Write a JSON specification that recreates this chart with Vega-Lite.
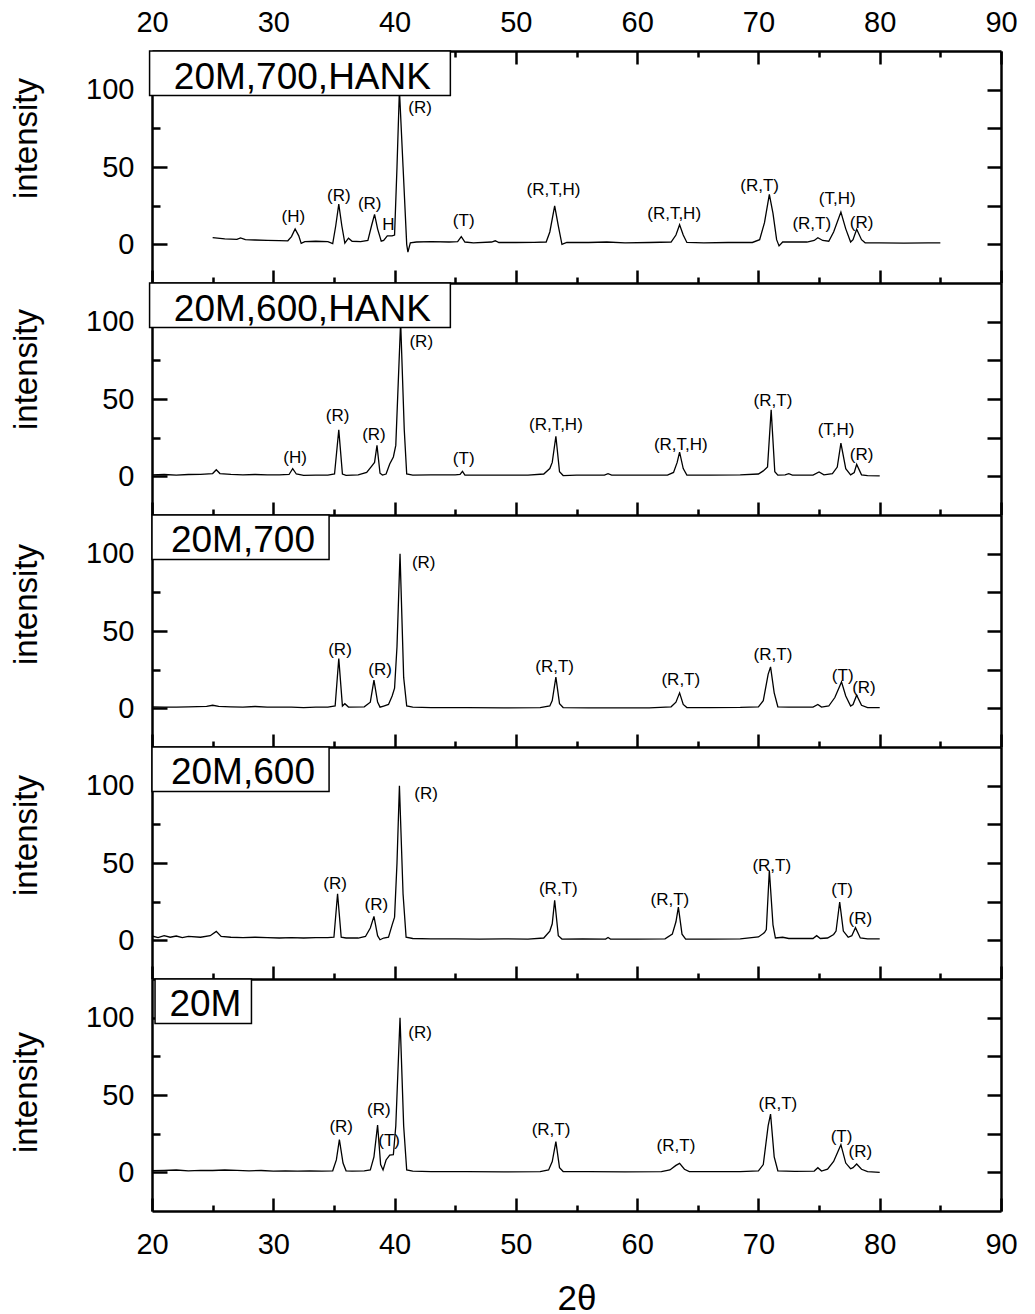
{
  "$schema": "https://vega.github.io/schema/vega-lite/v6.json",
  "padding": {"left": 10, "top": 8, "right": 5, "bottom": 5},
  "background": "white",
  "config": {
    "font": "Liberation Sans",
    "view": {"stroke": null},
    "axis": {"grid": false, "domainColor": "black", "domainWidth": 2.5, "tickColor": "black", "tickWidth": 2.5, "labelColor": "black", "labelFont": "Liberation Sans", "labelFontSize": 29, "labelFlush": false, "labelOverlap": false, "titleFont": "Liberation Sans", "titleColor": "black", "titleFontWeight": "normal"},
    "text": {"color": "black", "font": "Liberation Sans"}
  },
  "datasets": {
    "p1": [{"x":25,"y":4.3},{"x":26,"y":3.5},{"x":27,"y":3.2},{"x":27.3,"y":4.2},{"x":27.7,"y":3},{"x":28.5,"y":2.8},{"x":29.5,"y":2.6},{"x":30.5,"y":2.4},{"x":31.2,"y":2.3},{"x":31.5,"y":5},{"x":31.8,"y":10},{"x":32.1,"y":5.5},{"x":32.3,"y":0.6},{"x":32.6,"y":1.8},{"x":33.5,"y":2},{"x":34.5,"y":1.8},{"x":34.9,"y":0.5},{"x":35.15,"y":12},{"x":35.4,"y":26},{"x":35.65,"y":12},{"x":35.9,"y":0.8},{"x":36.2,"y":4},{"x":36.5,"y":2},{"x":37.2,"y":1.8},{"x":37.8,"y":2.5},{"x":38.1,"y":12},{"x":38.35,"y":19.4},{"x":38.6,"y":10},{"x":38.9,"y":2},{"x":39.1,"y":2.5},{"x":39.4,"y":5.5},{"x":39.8,"y":5.5},{"x":40.0,"y":6},{"x":40.2,"y":50},{"x":40.4,"y":100},{"x":40.7,"y":50},{"x":41.0,"y":0},{"x":41.1,"y":-5},{"x":41.3,"y":1},{"x":41.8,"y":1.5},{"x":43,"y":1.8},{"x":44.5,"y":1.5},{"x":45.2,"y":1.8},{"x":45.5,"y":5},{"x":45.8,"y":1.5},{"x":46.5,"y":1},{"x":48,"y":1.5},{"x":48.3,"y":2.3},{"x":48.6,"y":1.2},{"x":50,"y":1.2},{"x":51.5,"y":1.3},{"x":52.5,"y":1.5},{"x":52.8,"y":8},{"x":53.2,"y":24.8},{"x":53.5,"y":12},{"x":53.8,"y":0},{"x":54.2,"y":1.3},{"x":56,"y":1.2},{"x":57.5,"y":1.5},{"x":59,"y":1.0},{"x":61,"y":1.2},{"x":62.8,"y":1.5},{"x":63.2,"y":6},{"x":63.5,"y":12.7},{"x":63.8,"y":6},{"x":64.1,"y":1.2},{"x":65.5,"y":1},{"x":67.5,"y":1.2},{"x":69.5,"y":1.2},{"x":70.1,"y":3},{"x":70.5,"y":14},{"x":70.9,"y":32.3},{"x":71.2,"y":20},{"x":71.5,"y":3},{"x":71.7,"y":-1},{"x":72,"y":1.5},{"x":73,"y":1.5},{"x":74,"y":1.5},{"x":74.6,"y":2.5},{"x":74.9,"y":4.3},{"x":75.3,"y":2.5},{"x":75.8,"y":2},{"x":76.2,"y":8},{"x":76.8,"y":20.9},{"x":77.2,"y":10},{"x":77.6,"y":1.5},{"x":77.8,"y":3},{"x":78.1,"y":9.7},{"x":78.5,"y":3},{"x":78.8,"y":1},{"x":80,"y":1},{"x":82,"y":0.8},{"x":84,"y":1},{"x":85,"y":1}],
    "p2": [{"x":20,"y":1},{"x":21,"y":1.2},{"x":22,"y":0.8},{"x":23,"y":1.2},{"x":24,"y":1.3},{"x":25,"y":1.8},{"x":25.3,"y":4.3},{"x":25.6,"y":1.8},{"x":26.5,"y":1.3},{"x":27.5,"y":1},{"x":28.5,"y":1.2},{"x":29.5,"y":1},{"x":30.5,"y":1},{"x":31.3,"y":1.2},{"x":31.6,"y":4.9},{"x":31.9,"y":1.5},{"x":32.5,"y":0.6},{"x":33.5,"y":0.8},{"x":34.5,"y":0.8},{"x":35.05,"y":1.5},{"x":35.4,"y":30.1},{"x":35.7,"y":1.5},{"x":36,"y":0.6},{"x":37,"y":1},{"x":37.7,"y":2.5},{"x":38.1,"y":6.5},{"x":38.35,"y":9},{"x":38.55,"y":20},{"x":38.8,"y":2},{"x":39.0,"y":0.8},{"x":39.3,"y":1.5},{"x":39.6,"y":8},{"x":39.9,"y":12.5},{"x":40.1,"y":20},{"x":40.5,"y":100},{"x":40.8,"y":30},{"x":41.0,"y":1.5},{"x":41.5,"y":0.8},{"x":43,"y":1},{"x":45,"y":1},{"x":45.4,"y":1.2},{"x":45.6,"y":3.2},{"x":45.8,"y":0.8},{"x":47,"y":0.8},{"x":49,"y":0.8},{"x":51,"y":0.8},{"x":52.3,"y":1.5},{"x":52.8,"y":5},{"x":53.0,"y":9},{"x":53.3,"y":25.9},{"x":53.6,"y":3},{"x":53.9,"y":0.5},{"x":55,"y":0.8},{"x":57.3,"y":0.8},{"x":57.6,"y":1.7},{"x":57.9,"y":0.8},{"x":60,"y":0.8},{"x":62.5,"y":0.8},{"x":63.0,"y":2.5},{"x":63.3,"y":9},{"x":63.5,"y":15.7},{"x":63.8,"y":5},{"x":64.1,"y":0.8},{"x":66,"y":0.8},{"x":68.5,"y":1},{"x":70,"y":1.5},{"x":70.4,"y":3.5},{"x":70.75,"y":6},{"x":71.05,"y":43},{"x":71.35,"y":3},{"x":71.6,"y":0.8},{"x":72.2,"y":1},{"x":72.5,"y":1.7},{"x":72.8,"y":0.8},{"x":74.5,"y":0.8},{"x":75,"y":2.8},{"x":75.4,"y":1},{"x":76.1,"y":1.8},{"x":76.5,"y":6},{"x":76.8,"y":21.5},{"x":77.2,"y":5},{"x":77.6,"y":1},{"x":77.9,"y":2.5},{"x":78.1,"y":7.7},{"x":78.5,"y":1},{"x":79,"y":0.5},{"x":80,"y":0.3}],
    "p3": [{"x":20,"y":1},{"x":21,"y":0.8},{"x":22,"y":0.8},{"x":23,"y":1},{"x":24.5,"y":1.3},{"x":25,"y":2},{"x":25.5,"y":1.3},{"x":26.5,"y":1},{"x":27.5,"y":0.8},{"x":28.5,"y":1.2},{"x":29.5,"y":0.8},{"x":30.5,"y":0.8},{"x":31.5,"y":0.8},{"x":32.5,"y":0.5},{"x":33.5,"y":0.8},{"x":34.5,"y":0.8},{"x":35.1,"y":1.5},{"x":35.4,"y":32.2},{"x":35.7,"y":1.5},{"x":35.9,"y":3},{"x":36.2,"y":0.8},{"x":37.5,"y":1},{"x":38.0,"y":4},{"x":38.3,"y":18.2},{"x":38.6,"y":4},{"x":38.8,"y":0.8},{"x":39.1,"y":1.5},{"x":39.5,"y":2.5},{"x":39.8,"y":8},{"x":40.0,"y":13},{"x":40.2,"y":40},{"x":40.45,"y":100},{"x":40.75,"y":20},{"x":41.0,"y":1.5},{"x":41.5,"y":0.8},{"x":43,"y":0.5},{"x":46,"y":0.5},{"x":49,"y":0.3},{"x":52,"y":0.5},{"x":52.8,"y":1.5},{"x":53.0,"y":5},{"x":53.3,"y":20.2},{"x":53.6,"y":3},{"x":53.9,"y":0.5},{"x":56,"y":0.3},{"x":58,"y":0.3},{"x":61,"y":0.3},{"x":62.8,"y":1},{"x":63.2,"y":4},{"x":63.5,"y":10},{"x":63.8,"y":2.5},{"x":64.1,"y":0.5},{"x":66,"y":0.5},{"x":68.5,"y":0.6},{"x":70,"y":1},{"x":70.4,"y":5},{"x":70.8,"y":22},{"x":71.0,"y":26.8},{"x":71.3,"y":10},{"x":71.6,"y":1},{"x":72.5,"y":0.8},{"x":74.5,"y":0.8},{"x":74.9,"y":2.5},{"x":75.2,"y":0.8},{"x":75.8,"y":1.5},{"x":76.3,"y":7},{"x":76.85,"y":17.1},{"x":77.2,"y":8},{"x":77.6,"y":1.5},{"x":77.8,"y":2.5},{"x":78.1,"y":8.5},{"x":78.5,"y":2},{"x":79,"y":0.5},{"x":80,"y":0.5}],
    "p4": [{"x":20,"y":2.8},{"x":20.5,"y":1.8},{"x":21,"y":3},{"x":21.5,"y":2},{"x":22,"y":2.8},{"x":22.5,"y":1.8},{"x":23,"y":2.5},{"x":24,"y":2},{"x":24.8,"y":3},{"x":25.3,"y":5.8},{"x":25.7,"y":2.5},{"x":26.5,"y":2},{"x":27.5,"y":1.8},{"x":28.5,"y":2},{"x":29.5,"y":1.8},{"x":30.5,"y":1.5},{"x":31.5,"y":1.8},{"x":32.5,"y":1.5},{"x":33.5,"y":1.7},{"x":34.5,"y":1.8},{"x":35.0,"y":2},{"x":35.3,"y":30.1},{"x":35.6,"y":2},{"x":36,"y":1.5},{"x":37,"y":1.5},{"x":37.6,"y":2.5},{"x":38.0,"y":8},{"x":38.3,"y":15.5},{"x":38.6,"y":3},{"x":38.8,"y":0.4},{"x":39.1,"y":1.5},{"x":39.5,"y":2},{"x":39.8,"y":10},{"x":40.0,"y":15},{"x":40.2,"y":50},{"x":40.4,"y":100},{"x":40.7,"y":30},{"x":40.95,"y":2},{"x":41.5,"y":1.2},{"x":43,"y":1},{"x":45,"y":1},{"x":47,"y":0.8},{"x":49,"y":1},{"x":51,"y":0.8},{"x":52.3,"y":1.5},{"x":52.8,"y":6},{"x":53.0,"y":10.7},{"x":53.2,"y":25.9},{"x":53.5,"y":3},{"x":53.8,"y":0.8},{"x":55.5,"y":1},{"x":57.4,"y":0.8},{"x":57.6,"y":1.8},{"x":57.8,"y":0.8},{"x":60,"y":0.8},{"x":62.3,"y":1},{"x":62.9,"y":4},{"x":63.2,"y":12},{"x":63.4,"y":21.5},{"x":63.7,"y":4},{"x":64.0,"y":0.8},{"x":66,"y":0.8},{"x":68.5,"y":1},{"x":70,"y":2.2},{"x":70.5,"y":5},{"x":70.65,"y":6.9},{"x":70.9,"y":45.2},{"x":71.2,"y":10},{"x":71.4,"y":1.5},{"x":72.0,"y":2},{"x":72.5,"y":1.2},{"x":74.5,"y":1.2},{"x":74.8,"y":3},{"x":75.1,"y":1.2},{"x":75.7,"y":1.5},{"x":76.2,"y":3.8},{"x":76.4,"y":6},{"x":76.7,"y":24.8},{"x":77.0,"y":6},{"x":77.4,"y":2},{"x":77.7,"y":3},{"x":78.0,"y":8.2},{"x":78.4,"y":1.5},{"x":79,"y":1},{"x":80,"y":1}],
    "p5": [{"x":20,"y":1.1},{"x":21,"y":1.3},{"x":22,"y":1.5},{"x":23,"y":1},{"x":24,"y":1.3},{"x":25,"y":1.2},{"x":26,"y":1.5},{"x":27,"y":1.3},{"x":28,"y":1.0},{"x":29,"y":1.2},{"x":30,"y":0.8},{"x":31,"y":1},{"x":32,"y":0.8},{"x":33,"y":1.0},{"x":34,"y":0.8},{"x":34.9,"y":1},{"x":35.2,"y":8},{"x":35.45,"y":21.1},{"x":35.75,"y":6},{"x":36.0,"y":1},{"x":36.5,"y":0.8},{"x":37.5,"y":1},{"x":38.0,"y":1.5},{"x":38.3,"y":10},{"x":38.6,"y":30.6},{"x":38.85,"y":5},{"x":39.05,"y":1.5},{"x":39.3,"y":8},{"x":39.6,"y":11.2},{"x":39.9,"y":11.5},{"x":40.1,"y":30},{"x":40.45,"y":100},{"x":40.75,"y":30},{"x":41.0,"y":1.5},{"x":41.5,"y":0.8},{"x":43,"y":0.5},{"x":46,"y":0.5},{"x":49,"y":0.3},{"x":52,"y":0.5},{"x":52.7,"y":1.5},{"x":53.0,"y":7},{"x":53.3,"y":19.8},{"x":53.6,"y":3},{"x":53.9,"y":0.5},{"x":56,"y":0.5},{"x":59,"y":0.3},{"x":62,"y":0.5},{"x":62.7,"y":1.5},{"x":63.2,"y":4.5},{"x":63.5,"y":5.8},{"x":63.9,"y":2},{"x":64.3,"y":0.5},{"x":66,"y":0.5},{"x":68.5,"y":0.5},{"x":70,"y":1},{"x":70.4,"y":5},{"x":70.8,"y":30},{"x":71.0,"y":37.7},{"x":71.3,"y":10},{"x":71.6,"y":1},{"x":73,"y":0.6},{"x":74.6,"y":0.8},{"x":74.9,"y":3},{"x":75.2,"y":0.8},{"x":75.7,"y":2},{"x":76.2,"y":7},{"x":76.8,"y":17.9},{"x":77.2,"y":6},{"x":77.6,"y":2.3},{"x":77.8,"y":3},{"x":78.1,"y":5.4},{"x":78.5,"y":2},{"x":79,"y":0.5},{"x":80,"y":0}],
    "b1": [{"x0":19.8,"x1":44.6,"y0":96.2,"y1":125,"xc":32.4,"yc":100.3,"name":"20M,700,HANK"}],
    "b2": [{"x0":19.8,"x1":44.6,"y0":96.2,"y1":125,"xc":32.4,"yc":100.3,"name":"20M,600,HANK"}],
    "b3": [{"x0":20,"x1":34.6,"y0":96.2,"y1":125,"xc":27.5,"yc":100.8,"name":"20M,700"}],
    "b4": [{"x0":20,"x1":34.6,"y0":96.2,"y1":125,"xc":27.5,"yc":100.8,"name":"20M,600"}],
    "b5": [{"x0":20.25,"x1":28.2,"y0":96.2,"y1":125,"xc":24.4,"yc":101,"name":"20M"}],
    "l1": [{"x":31.65,"y":17.6,"t":"(H)"},{"x":35.4,"y":31.2,"t":"(R)"},{"x":37.95,"y":25.9,"t":"(R)"},{"x":39.5,"y":12.7,"t":"H"},{"x":42.1,"y":88.3,"t":"(R)"},{"x":45.7,"y":15.1,"t":"(T)"},{"x":53.1,"y":34.9,"t":"(R,T,H)"},{"x":63.05,"y":19.4,"t":"(R,T,H)"},{"x":70.1,"y":37.5,"t":"(R,T)"},{"x":74.4,"y":13.3,"t":"(R,T)"},{"x":76.5,"y":29.1,"t":"(T,H)"},{"x":78.5,"y":14.0,"t":"(R)"}],
    "l2": [{"x":31.8,"y":11.8,"t":"(H)"},{"x":35.3,"y":38.8,"t":"(R)"},{"x":38.3,"y":26.9,"t":"(R)"},{"x":42.2,"y":86.8,"t":"(R)"},{"x":45.7,"y":11.4,"t":"(T)"},{"x":53.3,"y":33.4,"t":"(R,T,H)"},{"x":63.6,"y":20,"t":"(R,T,H)"},{"x":71.2,"y":48.5,"t":"(R,T)"},{"x":76.4,"y":29.7,"t":"(T,H)"},{"x":78.5,"y":13.6,"t":"(R)"}],
    "l3": [{"x":35.5,"y":38,"t":"(R)"},{"x":38.8,"y":25,"t":"(R)"},{"x":42.4,"y":94,"t":"(R)"},{"x":53.2,"y":26.8,"t":"(R,T)"},{"x":63.6,"y":18,"t":"(R,T)"},{"x":71.2,"y":34.8,"t":"(R,T)"},{"x":76.95,"y":20.8,"t":"(T)"},{"x":78.7,"y":13.3,"t":"(R)"}],
    "l4": [{"x":35.1,"y":36.6,"t":"(R)"},{"x":38.5,"y":22.6,"t":"(R)"},{"x":42.6,"y":94.8,"t":"(R)"},{"x":53.5,"y":33.4,"t":"(R,T)"},{"x":62.7,"y":26.2,"t":"(R,T)"},{"x":71.1,"y":47.8,"t":"(R,T)"},{"x":76.9,"y":32.3,"t":"(T)"},{"x":78.4,"y":14,"t":"(R)"}],
    "l5": [{"x":35.6,"y":29.1,"t":"(R)"},{"x":38.7,"y":40.3,"t":"(R)"},{"x":39.55,"y":20.5,"t":"(T)"},{"x":42.1,"y":90,"t":"(R)"},{"x":52.9,"y":27.2,"t":"(R,T)"},{"x":63.2,"y":17.3,"t":"(R,T)"},{"x":71.6,"y":44,"t":"(R,T)"},{"x":76.85,"y":22.6,"t":"(T)"},{"x":78.4,"y":12.9,"t":"(R)"}]
  },
  "spacing": 0,
  "bounds": "flush",
  "vconcat": [
    {
      "width": 849, "height": 232,
      "resolve": {"axis": {"x": "independent", "y": "independent"}},
      "layer": [
        {"data": {"name": "p1"}, "mark": {"type": "line", "color": "black", "strokeWidth": 1.3},
         "encoding": {
           "x": {"field": "x", "type": "quantitative", "scale": {"domain": [20, 90], "nice": false}, "axis": {"orient": "bottom", "values": [20,30,40,50,60,70,80,90], "tickSize": -13, "labels": false, "title": null}},
           "y": {"field": "y", "type": "quantitative", "scale": {"domain": [-25, 125], "nice": false}, "axis": {"orient": "left", "values": [0,50,100], "tickSize": -15, "labelPadding": 33, "title": "intensity", "titleFontSize": 33, "titlePadding": 42, "titleY": 87}}}},
        {"data": {"name": "b1"}, "mark": {"type": "rect", "fill": "white", "stroke": "black", "strokeWidth": 1.5},
         "encoding": {
           "x": {"field": "x0", "type": "quantitative", "scale": {"domain": [20, 90], "nice": false}, "axis": {"orient": "top", "values": [20,30,40,50,60,70,80,90], "tickSize": -13, "labelPadding": 27, "title": null}},
           "x2": {"field": "x1"},
           "y": {"field": "y0", "type": "quantitative", "scale": {"domain": [-25, 125], "nice": false}, "axis": {"orient": "right", "values": [0,25,50,75,100], "tickSize": -14, "labels": false, "title": null}},
           "y2": {"field": "y1"}}},
        {"data": {"name": "b1"}, "mark": {"type": "text", "fontSize": 37, "align": "center", "baseline": "alphabetic"},
         "encoding": {
           "x": {"field": "xc", "type": "quantitative", "scale": {"domain": [20, 90], "nice": false}, "axis": {"orient": "bottom", "values": [25,35,45,55,65,75,85], "tickSize": -6, "labels": false, "domain": false, "title": null}},
           "y": {"field": "yc", "type": "quantitative", "scale": {"domain": [-25, 125], "nice": false}, "axis": {"orient": "left", "values": [25,75], "tickSize": -8, "labels": false, "domain": false, "title": null}},
           "text": {"field": "name"}}},
        {"data": {"name": "l1"}, "mark": {"type": "text", "fontSize": 17, "align": "center", "baseline": "middle"},
         "encoding": {
           "x": {"field": "x", "type": "quantitative", "scale": {"domain": [20, 90], "nice": false}, "axis": {"orient": "top", "values": [25,35,45,55,65,75,85], "tickSize": -6, "labels": false, "domain": false, "title": null}},
           "y": {"field": "y", "type": "quantitative", "scale": {"domain": [-25, 125], "nice": false}, "axis": null},
           "text": {"field": "t"}}}
      ]
    },
    {
      "width": 849, "height": 232,
      "resolve": {"axis": {"x": "independent", "y": "independent"}},
      "layer": [
        {"data": {"name": "p2"}, "mark": {"type": "line", "color": "black", "strokeWidth": 1.3},
         "encoding": {
           "x": {"field": "x", "type": "quantitative", "scale": {"domain": [20, 90], "nice": false}, "axis": {"orient": "bottom", "values": [20,30,40,50,60,70,80,90], "tickSize": -13, "labels": false, "title": null}},
           "y": {"field": "y", "type": "quantitative", "scale": {"domain": [-25, 125], "nice": false}, "axis": {"orient": "left", "values": [0,50,100], "tickSize": -15, "labelPadding": 33, "title": "intensity", "titleFontSize": 33, "titlePadding": 42, "titleY": 86}}}},
        {"data": {"name": "b2"}, "mark": {"type": "rect", "fill": "white", "stroke": "black", "strokeWidth": 1.5},
         "encoding": {
           "x": {"field": "x0", "type": "quantitative", "scale": {"domain": [20, 90], "nice": false}, "axis": null},
           "x2": {"field": "x1"},
           "y": {"field": "y0", "type": "quantitative", "scale": {"domain": [-25, 125], "nice": false}, "axis": {"orient": "right", "values": [0,25,50,75,100], "tickSize": -14, "labels": false, "title": null}},
           "y2": {"field": "y1"}}},
        {"data": {"name": "b2"}, "mark": {"type": "text", "fontSize": 37, "align": "center", "baseline": "alphabetic"},
         "encoding": {
           "x": {"field": "xc", "type": "quantitative", "scale": {"domain": [20, 90], "nice": false}, "axis": {"orient": "bottom", "values": [25,35,45,55,65,75,85], "tickSize": -6, "labels": false, "domain": false, "title": null}},
           "y": {"field": "yc", "type": "quantitative", "scale": {"domain": [-25, 125], "nice": false}, "axis": {"orient": "left", "values": [25,75], "tickSize": -8, "labels": false, "domain": false, "title": null}},
           "text": {"field": "name"}}},
        {"data": {"name": "l2"}, "mark": {"type": "text", "fontSize": 17, "align": "center", "baseline": "middle"},
         "encoding": {
           "x": {"field": "x", "type": "quantitative", "scale": {"domain": [20, 90], "nice": false}, "axis": null},
           "y": {"field": "y", "type": "quantitative", "scale": {"domain": [-25, 125], "nice": false}, "axis": null},
           "text": {"field": "t"}}}
      ]
    },
    {
      "width": 849, "height": 232,
      "resolve": {"axis": {"x": "independent", "y": "independent"}},
      "layer": [
        {"data": {"name": "p3"}, "mark": {"type": "line", "color": "black", "strokeWidth": 1.3},
         "encoding": {
           "x": {"field": "x", "type": "quantitative", "scale": {"domain": [20, 90], "nice": false}, "axis": {"orient": "bottom", "values": [20,30,40,50,60,70,80,90], "tickSize": -13, "labels": false, "title": null}},
           "y": {"field": "y", "type": "quantitative", "scale": {"domain": [-25, 125], "nice": false}, "axis": {"orient": "left", "values": [0,50,100], "tickSize": -15, "labelPadding": 33, "title": "intensity", "titleFontSize": 33, "titlePadding": 42, "titleY": 89}}}},
        {"data": {"name": "b3"}, "mark": {"type": "rect", "fill": "white", "stroke": "black", "strokeWidth": 1.5},
         "encoding": {
           "x": {"field": "x0", "type": "quantitative", "scale": {"domain": [20, 90], "nice": false}, "axis": null},
           "x2": {"field": "x1"},
           "y": {"field": "y0", "type": "quantitative", "scale": {"domain": [-25, 125], "nice": false}, "axis": {"orient": "right", "values": [0,25,50,75,100], "tickSize": -14, "labels": false, "title": null}},
           "y2": {"field": "y1"}}},
        {"data": {"name": "b3"}, "mark": {"type": "text", "fontSize": 37, "align": "center", "baseline": "alphabetic"},
         "encoding": {
           "x": {"field": "xc", "type": "quantitative", "scale": {"domain": [20, 90], "nice": false}, "axis": {"orient": "bottom", "values": [25,35,45,55,65,75,85], "tickSize": -6, "labels": false, "domain": false, "title": null}},
           "y": {"field": "yc", "type": "quantitative", "scale": {"domain": [-25, 125], "nice": false}, "axis": {"orient": "left", "values": [25,75], "tickSize": -8, "labels": false, "domain": false, "title": null}},
           "text": {"field": "name"}}},
        {"data": {"name": "l3"}, "mark": {"type": "text", "fontSize": 17, "align": "center", "baseline": "middle"},
         "encoding": {
           "x": {"field": "x", "type": "quantitative", "scale": {"domain": [20, 90], "nice": false}, "axis": null},
           "y": {"field": "y", "type": "quantitative", "scale": {"domain": [-25, 125], "nice": false}, "axis": null},
           "text": {"field": "t"}}}
      ]
    },
    {
      "width": 849, "height": 232,
      "resolve": {"axis": {"x": "independent", "y": "independent"}},
      "layer": [
        {"data": {"name": "p4"}, "mark": {"type": "line", "color": "black", "strokeWidth": 1.3},
         "encoding": {
           "x": {"field": "x", "type": "quantitative", "scale": {"domain": [20, 90], "nice": false}, "axis": {"orient": "bottom", "values": [20,30,40,50,60,70,80,90], "tickSize": -13, "labels": false, "title": null}},
           "y": {"field": "y", "type": "quantitative", "scale": {"domain": [-25, 125], "nice": false}, "axis": {"orient": "left", "values": [0,50,100], "tickSize": -15, "labelPadding": 33, "title": "intensity", "titleFontSize": 33, "titlePadding": 42, "titleY": 88}}}},
        {"data": {"name": "b4"}, "mark": {"type": "rect", "fill": "white", "stroke": "black", "strokeWidth": 1.5},
         "encoding": {
           "x": {"field": "x0", "type": "quantitative", "scale": {"domain": [20, 90], "nice": false}, "axis": null},
           "x2": {"field": "x1"},
           "y": {"field": "y0", "type": "quantitative", "scale": {"domain": [-25, 125], "nice": false}, "axis": {"orient": "right", "values": [0,25,50,75,100], "tickSize": -14, "labels": false, "title": null}},
           "y2": {"field": "y1"}}},
        {"data": {"name": "b4"}, "mark": {"type": "text", "fontSize": 37, "align": "center", "baseline": "alphabetic"},
         "encoding": {
           "x": {"field": "xc", "type": "quantitative", "scale": {"domain": [20, 90], "nice": false}, "axis": {"orient": "bottom", "values": [25,35,45,55,65,75,85], "tickSize": -6, "labels": false, "domain": false, "title": null}},
           "y": {"field": "yc", "type": "quantitative", "scale": {"domain": [-25, 125], "nice": false}, "axis": {"orient": "left", "values": [25,75], "tickSize": -8, "labels": false, "domain": false, "title": null}},
           "text": {"field": "name"}}},
        {"data": {"name": "l4"}, "mark": {"type": "text", "fontSize": 17, "align": "center", "baseline": "middle"},
         "encoding": {
           "x": {"field": "x", "type": "quantitative", "scale": {"domain": [20, 90], "nice": false}, "axis": null},
           "y": {"field": "y", "type": "quantitative", "scale": {"domain": [-25, 125], "nice": false}, "axis": null},
           "text": {"field": "t"}}}
      ]
    },
    {
      "width": 849, "height": 232,
      "resolve": {"axis": {"x": "independent", "y": "independent"}},
      "layer": [
        {"data": {"name": "p5"}, "mark": {"type": "line", "color": "black", "strokeWidth": 1.3},
         "encoding": {
           "x": {"field": "x", "type": "quantitative", "scale": {"domain": [20, 90], "nice": false}, "axis": {"orient": "bottom", "values": [20,30,40,50,60,70,80,90], "tickSize": -13, "labelPadding": 32, "title": "2θ", "titleFontSize": 35, "titlePadding": 22}},
           "y": {"field": "y", "type": "quantitative", "scale": {"domain": [-25, 125], "nice": false}, "axis": {"orient": "left", "values": [0,50,100], "tickSize": -15, "labelPadding": 33, "title": "intensity", "titleFontSize": 33, "titlePadding": 42, "titleY": 113}}}},
        {"data": {"name": "b5"}, "mark": {"type": "rect", "fill": "white", "stroke": "black", "strokeWidth": 1.5},
         "encoding": {
           "x": {"field": "x0", "type": "quantitative", "scale": {"domain": [20, 90], "nice": false}, "axis": null},
           "x2": {"field": "x1"},
           "y": {"field": "y0", "type": "quantitative", "scale": {"domain": [-25, 125], "nice": false}, "axis": {"orient": "right", "values": [0,25,50,75,100], "tickSize": -14, "labels": false, "title": null}},
           "y2": {"field": "y1"}}},
        {"data": {"name": "b5"}, "mark": {"type": "text", "fontSize": 37, "align": "center", "baseline": "alphabetic"},
         "encoding": {
           "x": {"field": "xc", "type": "quantitative", "scale": {"domain": [20, 90], "nice": false}, "axis": {"orient": "bottom", "values": [25,35,45,55,65,75,85], "tickSize": -6, "labels": false, "domain": false, "title": null}},
           "y": {"field": "yc", "type": "quantitative", "scale": {"domain": [-25, 125], "nice": false}, "axis": {"orient": "left", "values": [25,75], "tickSize": -8, "labels": false, "domain": false, "title": null}},
           "text": {"field": "name"}}},
        {"data": {"name": "l5"}, "mark": {"type": "text", "fontSize": 17, "align": "center", "baseline": "middle"},
         "encoding": {
           "x": {"field": "x", "type": "quantitative", "scale": {"domain": [20, 90], "nice": false}, "axis": null},
           "y": {"field": "y", "type": "quantitative", "scale": {"domain": [-25, 125], "nice": false}, "axis": null},
           "text": {"field": "t"}}}
      ]
    }
  ]
}
